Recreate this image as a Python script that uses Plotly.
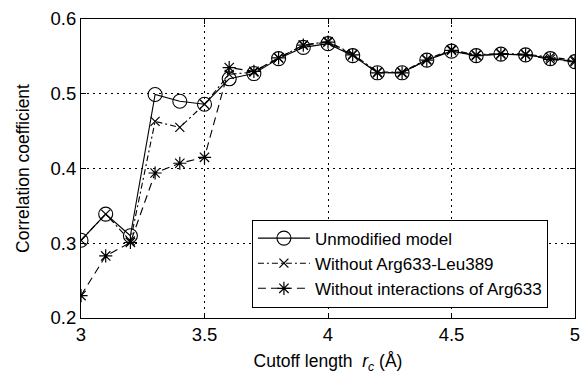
import plotly.graph_objects as go

x_vals = [3.0, 3.1, 3.2, 3.3, 3.4, 3.5, 3.6, 3.7, 3.8, 3.9, 4.0,
          4.1, 4.2, 4.3, 4.4, 4.5, 4.6, 4.7, 4.8, 4.9, 5.0]
unmodified = [0.304, 0.339, 0.310, 0.499, 0.490, 0.486, 0.520, 0.527, 0.547, 0.562, 0.567,
              0.551, 0.528, 0.528, 0.545, 0.557, 0.551, 0.553, 0.552, 0.547, 0.543]
without_pair = [0.304, 0.339, 0.303, 0.463, 0.455, 0.486, 0.526, 0.529, 0.548, 0.565, 0.570,
                0.553, 0.529, 0.529, 0.546, 0.559, 0.552, 0.554, 0.553, 0.549, 0.545]
without_all = [0.230, 0.283, 0.301, 0.394, 0.407, 0.415, 0.535, 0.530, 0.548, 0.565, 0.569,
               0.552, 0.528, 0.528, 0.545, 0.558, 0.551, 0.553, 0.552, 0.546, 0.543]
names = ["Unmodified model", "Without Arg633-Leu389", "Without interactions of Arg633"]
x_ticks = [3, 3.5, 4, 4.5, 5]
x_tick_text = ["3", "3.5", "4", "4.5", "5"]
y_ticks = [0.2, 0.3, 0.4, 0.5, 0.6]
y_tick_text = ["0.2", "0.3", "0.4", "0.5", "0.6"]

FONT = "Liberation Sans, Arial, sans-serif"

fig = go.Figure()
fig.add_trace(go.Scatter(
    x=x_vals, y=unmodified, name=names[0], mode="lines+markers",
    line=dict(color="black", width=1.1, dash="solid"),
    marker=dict(symbol="circle-open", size=14, color="black", line=dict(width=1.1))))
fig.add_trace(go.Scatter(
    x=x_vals, y=without_pair, name=names[1], mode="lines+markers",
    line=dict(color="black", width=1.1, dash="6px,3px,2px,3px"),
    marker=dict(symbol="x-thin-open", size=9, color="black", line=dict(width=1.2))))
fig.add_trace(go.Scatter(
    x=x_vals, y=without_all, name=names[2], mode="lines+markers",
    line=dict(color="black", width=1.1, dash="8px,5px"),
    marker=dict(symbol="asterisk-open", size=11, color="black", line=dict(width=1.2))))

axis_common = dict(
    showline=True, linecolor="black", linewidth=1.2, mirror="allticks",
    ticks="inside", ticklen=5, tickcolor="black",
    showgrid=True, gridcolor="black", griddash="2px,4px", gridwidth=1.2,
    zeroline=False, tickfont=dict(family=FONT, size=18.5, color="black"),
    automargin=False,
)

fig.update_xaxes(range=[3, 5], tickvals=x_ticks, ticktext=x_tick_text,
                 title=dict(text="Cutoff length&nbsp;&nbsp;<i>r<sub>c</sub></i> (Å)",
                            font=dict(family=FONT, size=17.5, color="black"), standoff=10),
                 **axis_common)
fig.update_yaxes(range=[0.2, 0.6], tickvals=y_ticks, ticktext=y_tick_text,
                 title=dict(text="Correlation coefficient",
                            font=dict(family=FONT, size=17.5, color="black"), standoff=16),
                 **axis_common)

fig.update_layout(
    width=581, height=377,
    margin=dict(l=81, r=6, t=19, b=59),
    paper_bgcolor="white", plot_bgcolor="white",
    font=dict(family=FONT, size=17, color="black"),
    showlegend=True,
    legend=dict(x=0.346, y=0.035, xanchor="left", yanchor="bottom",
                bgcolor="white", bordercolor="black", borderwidth=1,
                font=dict(family=FONT, size=17, color="black"),
                tracegroupgap=0, itemwidth=52),
)

fig.write_html("out.html")
